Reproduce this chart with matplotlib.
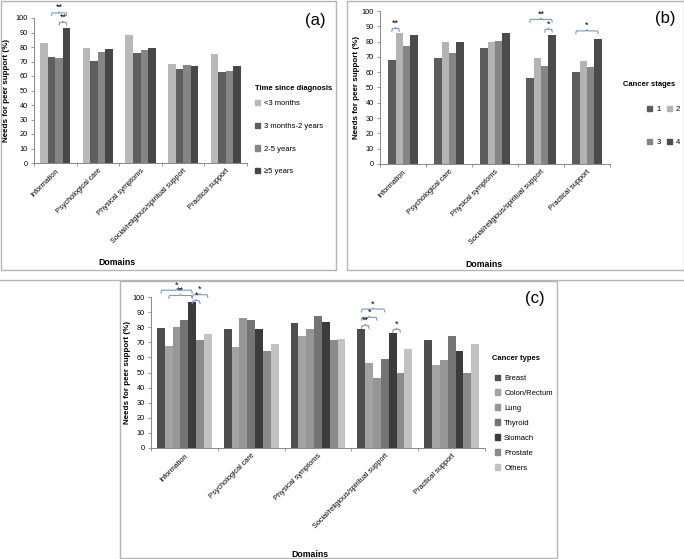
import numpy as np
import matplotlib
matplotlib.use("Agg")
import matplotlib.pyplot as plt
from matplotlib.patches import Rectangle
from matplotlib.lines import Line2D

plt.rcParams["font.family"] = ["Liberation Sans", "DejaVu Sans"]

W, H = 684, 559

domains = ["Information", "Psychological care", "Physical symptoms",
           "Social/religious/spiritual support", "Practical support"]

# (a) time since diagnosis
time_groups = ["<3 months", "3 months-2 years", "2-5 years", "\u22655 years"]
time_colors = ["#b8b8b8", "#5e5e5e", "#858585", "#474747"]
lt3m = [83.0, 79.6, 88.5, 68.6, 75.5]
m3_2y = [73.0, 70.6, 76.1, 64.6, 62.8]
y2_5 = [72.7, 76.4, 78.0, 67.7, 63.6]
ge5y = [92.8, 78.3, 79.5, 67.2, 67.2]

# (b) cancer stages
stages = ["1", "2", "3", "4"]
stage_colors = ["#5c5c5c", "#b3b3b3", "#858585", "#4b4b4b"]
stage1 = [67.8, 69.3, 75.7, 56.0, 60.0]
stage2 = [85.8, 80.0, 79.7, 69.0, 67.3]
stage3 = [77.2, 72.5, 80.3, 64.3, 63.7]
stage4 = [84.5, 80.0, 85.7, 84.3, 81.7]

# (c) cancer types
types = ["Breast", "Colon/Rectum", "Lung", "Thyroid", "Stomach", "Prostate", "Others"]
type_colors = ["#4e4e4e", "#a3a3a3", "#969696", "#747474", "#3c3c3c", "#8a8a8a", "#c2c2c2"]
breast = [79.3, 78.5, 83.0, 78.7, 71.3]
colon = [67.3, 66.8, 74.0, 56.3, 54.7]
lung = [80.0, 86.0, 79.0, 46.3, 58.3]
thyroid = [85.0, 85.0, 87.3, 59.2, 74.0]
stomach = [96.7, 79.0, 83.5, 76.0, 64.5]
prostate = [71.5, 64.5, 71.5, 50.0, 50.0]
others = [75.6, 69.0, 72.5, 65.3, 69.0]

# significance brackets: (domain, bar i, bar j, bracket y, label)
sig_a = [(0, 1, 3, 103.5, "**"), (0, 2, 3, 97.0, "**")]
sig_b = [(0, 0, 1, 88.5, "**"), (3, 0, 3, 94.5, "**"), (3, 2, 3, 88.0, "*"),
         (4, 0, 3, 87.0, "*")]
sig_c = [(0, 0, 4, 104.5, "*"), (0, 1, 4, 101.0, "**"), (0, 4, 6, 101.5, "*"),
         (0, 4, 5, 97.5, "*"), (3, 0, 3, 92.0, "*"), (3, 0, 2, 86.5, "*"),
         (3, 0, 1, 81.0, "**"), (3, 4, 5, 78.5, "*")]

BR = "#7b98c4"


def ax_rect(left, right, top, bottom):
    return [left / W, 1 - bottom / H, (right - left) / W, (bottom - top) / H]


def bracket(ax, x1, x2, y, label, h=1.8):
    dx = 0.012
    xm = (x1 + x2) / 2
    xs = [x1, x1 + dx, xm - dx, xm, xm + dx, x2 - dx, x2]
    ys = [y - h, y, y, y + 0.8, y, y, y - h]
    ax.plot(xs, ys, color=BR, lw=0.8, clip_on=False, solid_joinstyle="round")
    ax.text(xm, y + 0.5, label, ha="center", va="bottom", fontsize=6.5,
            clip_on=False)


def draw_panel(ax, series, colors, gw, sigs):
    n = len(series)
    w = gw / n
    x = np.arange(len(domains))
    for j, (vals, c) in enumerate(zip(series, colors)):
        ax.bar(x + (j - (n - 1) / 2) * w, vals, width=w, color=c, edgecolor="none")
    for d, i, j, y, lab in sigs:
        bracket(ax, d + (i - (n - 1) / 2) * w, d + (j - (n - 1) / 2) * w, y, lab)
    ax.set_xlim(-0.5, len(domains) - 0.5)
    ax.set_ylim(0, 100)
    ax.set_yticks(np.arange(0, 101, 10))
    ax.set_xticks(x)
    ax.set_xticklabels(domains, rotation=45, ha="right", rotation_mode="anchor",
                       fontsize=5.3)
    ax.set_xticks(np.arange(-0.5, len(domains)), minor=True)
    ax.tick_params(axis="x", which="major", length=0, pad=3)
    ax.tick_params(axis="x", which="minor", length=2.5, color="#888888", width=0.6)
    ax.tick_params(axis="y", labelsize=5.3, length=2.5, color="#888888", width=0.6, pad=2)
    for s in ["top", "right"]:
        ax.spines[s].set_visible(False)
    for s in ["left", "bottom"]:
        ax.spines[s].set_color("#888888")
        ax.spines[s].set_linewidth(0.7)
    ax.set_ylabel("Needs for peer support (%)", fontsize=5.8, fontweight="bold")
    ax.set_xlabel("Domains", fontsize=6.3, fontweight="bold")


def side_legend(labels, colors, title, x_title, y_title, x_leg, y_leg, spacing,
                ncol=1, colsp=0.8):
    fig.text(x_title / W, 1 - y_title / H, title, fontsize=5.5, fontweight="bold",
             ha="left", va="center")
    handles = [Rectangle((0, 0), 1, 1, color=c) for c in colors]
    fig.legend(handles, labels, ncol=ncol, loc="upper left",
               bbox_to_anchor=(x_leg / W, 1 - y_leg / H),
               bbox_transform=fig.transFigure, frameon=False, fontsize=5.5,
               handlelength=0.7, handleheight=0.7, handletextpad=0.5,
               labelspacing=spacing, columnspacing=colsp, borderpad=0,
               borderaxespad=0)


fig = plt.figure(figsize=(W / 100, H / 100), dpi=100)

# panel frames
for (l, r, t, b) in [(0.5, 336, 0.5, 270), (347, 683.5, 0.5, 270), (120, 557, 281, 558)]:
    fig.patches.append(Rectangle((l / W, 1 - b / H), (r - l) / W, (b - t) / H,
                                 transform=fig.transFigure, fill=False,
                                 edgecolor="#b5b5b5", lw=1.0))
fig.add_artist(Line2D([0, 1], [1 - 280 / H, 1 - 280 / H], transform=fig.transFigure,
                      color="#b5b5b5", lw=1.0))

# (a)
ax1 = fig.add_axes(ax_rect(34, 247, 18, 163))
draw_panel(ax1, [lt3m, m3_2y, y2_5, ge5y], time_colors, 0.71, sig_a)
ax1.yaxis.set_label_coords(-0.115, 0.5)
ax1.xaxis.set_label_coords(0.39, -0.655)
side_legend(time_groups, time_colors, "Time since diagnosis", 255, 88, 255, 100, 2.0)
fig.text(315 / W, 1 - 20 / H, "(a)", fontsize=12, ha="center", va="center")

# (b)
ax2 = fig.add_axes(ax_rect(380, 610, 11, 164))
draw_panel(ax2, [stage1, stage2, stage3, stage4], stage_colors, 0.65, sig_b)
ax2.yaxis.set_label_coords(-0.085, 0.5)
ax2.xaxis.set_label_coords(0.45, -0.63)
order = [0, 2, 1, 3]
side_legend([stages[k] for k in order], [stage_colors[k] for k in order],
            "Cancer stages", 623, 84, 647, 106, 3.3, ncol=2)
fig.text(665 / W, 1 - 18 / H, "(b)", fontsize=12, ha="center", va="center")

# (c)
ax3 = fig.add_axes(ax_rect(151, 485, 297, 448))
draw_panel(ax3, [breast, colon, lung, thyroid, stomach, prostate, others],
           type_colors, 0.82, sig_c)
ax3.yaxis.set_label_coords(-0.06, 0.5)
ax3.xaxis.set_label_coords(0.476, -0.675)
side_legend(types, type_colors, "Cancer types", 492, 359, 495, 374.5, 1.0)
fig.text(535 / W, 1 - 299 / H, "(c)", fontsize=12, ha="center", va="center")

fig.savefig("out.png", dpi=100)
